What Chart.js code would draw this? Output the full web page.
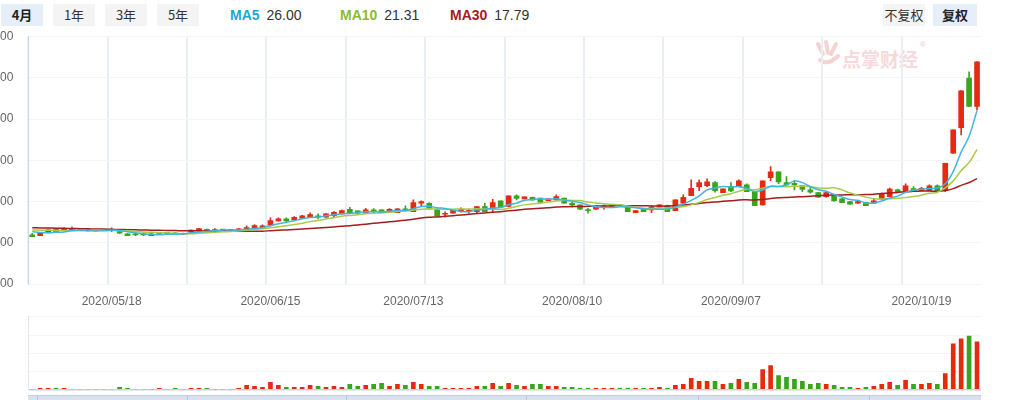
<!DOCTYPE html>
<html>
<head>
<meta charset="utf-8">
<script src="https://cdn.jsdelivr.net/npm/chart.js@4/dist/chart.umd.min.js"></script>
<style>
  body { margin: 0; width: 1015px; height: 400px; overflow: hidden; background: #fff; position: relative;
         font-family: "Liberation Sans", Arial, sans-serif; }
  .btn { position: absolute; top: 4px; height: 22px; line-height: 22px; text-align: center; font-size: 13px;
         color: #333; background: #f4f4f4; font-family: "Noto Sans CJK SC", sans-serif; }
  .btn.on { background: #e6eef9; font-weight: bold; color: #222; }
  .ma { position: absolute; top: 6px; font-size: 14px; line-height: 18px; color: #333; white-space: nowrap; }
  .ma b { margin-right: 3px; }
  canvas { position: absolute; }
  #mark { position: absolute; left: 842px; top: 45px; font: bold 19px "Noto Sans CJK SC", sans-serif; color: #f7d9d9; }
  #reg { position: absolute; left: 920px; top: 40px; font-size: 8px; color: #f2cccc; }
  #strip { position: absolute; left: 28px; top: 395px; width: 953px; height: 5px; background: #d9e0ee; border-top: 1px solid #c6cfe1; }
  #strip i { position: absolute; top: 0; width: 1px; height: 5px; background: #b9c4da; }
</style>
</head>
<body>
<div class="btn on" style="left:1px;width:42px">4月</div>
<div class="btn" style="left:53px;width:42px">1年</div>
<div class="btn" style="left:105px;width:42px">3年</div>
<div class="btn" style="left:157px;width:42px">5年</div>
<div class="ma" style="left:230px"><b style="color:#1da7d6">MA5</b> 26.00</div>
<div class="ma" style="left:340px"><b style="color:#8cbd27">MA10</b> 21.31</div>
<div class="ma" style="left:450px"><b style="color:#a51c1f">MA30</b> 17.79</div>
<div class="btn" style="left:883px;width:42px">不复权</div>
<div class="btn on" style="left:933px;width:44px">复权</div>

<svg style="position:absolute;left:814px;top:40px" width="28" height="28">
  <g stroke="#f6d3d3" stroke-width="4" stroke-linecap="round" fill="none">
    <path d="M4 4 L9 14"/><path d="M12 2 L14 13"/><path d="M22 4 L17 14"/><path d="M6 20 Q14 26 24 16"/>
  </g>
</svg>
<div id="mark">点掌财经</div>
<div id="reg">®</div>

<canvas id="kline" width="1055" height="310" style="left:-40px;top:0"></canvas>
<canvas id="vol" width="1055" height="92" style="left:-40px;top:300px"></canvas>

<div id="strip">
  <i style="left:9px"></i><i style="left:159px"></i><i style="left:318px"></i>
  <i style="left:498px"></i><i style="left:670px"></i><i style="left:841px"></i>
</div>

<script>
// trading days shown (2020/04/29 - 2020/10/28)
const dates = [
  '2020/04/29','2020/04/30',
  '2020/05/06','2020/05/07','2020/05/08','2020/05/11','2020/05/12','2020/05/13','2020/05/14','2020/05/15',
  '2020/05/18','2020/05/19','2020/05/20','2020/05/21','2020/05/22','2020/05/25','2020/05/26','2020/05/27',
  '2020/05/28','2020/05/29',
  '2020/06/01','2020/06/02','2020/06/03','2020/06/04','2020/06/05','2020/06/08','2020/06/09','2020/06/10',
  '2020/06/11','2020/06/12','2020/06/15','2020/06/16','2020/06/17','2020/06/18','2020/06/19','2020/06/22',
  '2020/06/23','2020/06/24','2020/06/29','2020/06/30',
  '2020/07/01','2020/07/02','2020/07/03','2020/07/06','2020/07/07','2020/07/08','2020/07/09','2020/07/10',
  '2020/07/13','2020/07/14','2020/07/15','2020/07/16','2020/07/17','2020/07/20','2020/07/21','2020/07/22',
  '2020/07/23','2020/07/24','2020/07/27','2020/07/28','2020/07/29','2020/07/30','2020/07/31',
  '2020/08/03','2020/08/04','2020/08/05','2020/08/06','2020/08/07','2020/08/10','2020/08/11','2020/08/12',
  '2020/08/13','2020/08/14','2020/08/17','2020/08/18','2020/08/19','2020/08/20','2020/08/21','2020/08/24',
  '2020/08/25','2020/08/26','2020/08/27','2020/08/28','2020/08/31',
  '2020/09/01','2020/09/02','2020/09/03','2020/09/04','2020/09/07','2020/09/08','2020/09/09','2020/09/10',
  '2020/09/11','2020/09/14','2020/09/15','2020/09/16','2020/09/17','2020/09/18','2020/09/21','2020/09/22',
  '2020/09/23','2020/09/24','2020/09/25','2020/09/28','2020/09/29','2020/09/30',
  '2020/10/09','2020/10/12','2020/10/13','2020/10/14','2020/10/15','2020/10/16','2020/10/19','2020/10/20',
  '2020/10/21','2020/10/22','2020/10/23','2020/10/26','2020/10/27','2020/10/28'
];
const shownDates = ['2020/05/18', '2020/06/15', '2020/07/13', '2020/08/10', '2020/09/07', '2020/10/19'];

const opens = [
  10.95, 10.87, 11.23, 11.64, 11.51, 11.68, 11.60, 11.60, 11.39, 11.57,
  11.64, 11.35, 11.07, 11.03, 11.03, 10.87, 10.99, 11.12, 11.19, 11.03,
  11.27, 11.39, 11.64, 11.47, 11.57, 11.52, 11.51, 11.55, 11.76, 11.72,
  12.12, 12.65, 12.89, 12.77, 12.97, 13.05, 13.25, 13.09, 13.29, 13.50,
  14.06, 13.86, 13.58, 13.98, 13.98, 13.86, 13.66, 14.06, 13.78, 14.79,
  14.79, 14.06, 13.46, 13.58, 13.90, 13.82, 13.78, 14.39, 14.06, 15.07,
  14.39, 15.68, 15.32, 15.52, 15.40, 15.11, 15.19, 15.40, 14.79, 14.59,
  13.98, 14.06, 14.31, 14.39, 14.52, 14.39, 13.66, 14.10, 13.98, 14.31,
  14.55, 13.90, 14.79, 15.72, 16.81, 16.93, 17.29, 16.08, 16.81, 16.81,
  17.01, 16.20, 14.59, 17.90, 18.59, 17.29, 17.21, 16.93, 16.40, 16.08,
  15.60, 15.72, 15.32, 14.99, 14.79, 14.91, 14.79, 15.30, 15.60, 16.40,
  16.20, 16.56, 16.32, 16.32, 16.89, 16.32, 20.85, 23.96, 29.95, 26.51
];
const highs = [
  11.15, 11.17, 11.60, 11.68, 11.80, 11.92, 11.62, 11.62, 11.66, 11.62,
  11.80, 11.37, 11.10, 11.23, 11.23, 11.10, 11.10, 11.14, 11.21, 11.17,
  11.57, 11.74, 11.66, 11.72, 11.60, 11.55, 11.76, 12.04, 12.20, 12.16,
  13.01, 13.01, 13.01, 13.17, 13.33, 13.62, 13.50, 13.55, 13.78, 13.95,
  14.30, 13.88, 14.18, 14.14, 14.00, 14.14, 14.14, 14.47, 15.19, 15.07,
  14.87, 14.20, 13.74, 14.00, 14.22, 14.06, 14.41, 14.79, 15.27, 15.09,
  15.70, 15.80, 15.58, 15.54, 15.42, 15.34, 15.80, 15.42, 14.99, 14.61,
  14.18, 14.41, 14.59, 14.57, 14.55, 14.41, 13.92, 14.12, 14.47, 14.61,
  14.57, 15.21, 15.80, 17.62, 17.62, 17.74, 17.42, 16.55, 17.29, 17.62,
  17.13, 16.22, 17.52, 19.24, 18.61, 18.02, 17.54, 16.95, 16.81, 16.10,
  16.10, 15.74, 15.34, 15.01, 15.01, 14.93, 15.27, 16.02, 16.62, 16.50,
  17.13, 16.81, 16.72, 17.01, 17.01, 19.65, 23.70, 28.43, 30.71, 31.95
];
const lows = [
  10.71, 10.85, 11.20, 11.28, 11.48, 11.47, 11.45, 11.41, 11.37, 11.50,
  11.35, 11.13, 10.85, 10.87, 10.87, 10.85, 10.97, 11.08, 11.01, 11.01,
  11.25, 11.37, 11.37, 11.35, 11.52, 11.48, 11.47, 11.53, 11.74, 11.70,
  12.04, 12.63, 12.57, 12.75, 12.95, 13.03, 12.89, 13.07, 13.09, 13.48,
  13.56, 13.56, 13.56, 13.66, 13.64, 13.74, 13.64, 13.90, 13.76, 14.39,
  14.08, 13.23, 13.09, 13.56, 13.70, 13.58, 13.58, 13.76, 13.70, 14.29,
  14.37, 15.19, 15.30, 15.17, 14.89, 15.09, 15.17, 14.77, 14.31, 14.04,
  13.58, 14.04, 14.06, 14.37, 14.42, 13.76, 13.64, 13.76, 13.66, 14.29,
  13.76, 13.88, 14.77, 15.70, 16.32, 16.81, 16.12, 16.06, 16.20, 16.79,
  16.18, 14.48, 14.57, 17.54, 17.17, 16.99, 16.40, 16.20, 16.00, 15.50,
  15.48, 15.05, 14.85, 14.65, 14.77, 14.48, 14.77, 15.19, 15.58, 16.12,
  16.18, 16.30, 16.30, 16.30, 16.30, 16.20, 20.83, 23.07, 26.49, 26.11
];
const closes = [
  10.75, 11.15, 11.56, 11.31, 11.76, 11.60, 11.47, 11.43, 11.64, 11.56,
  11.47, 11.15, 10.87, 10.95, 10.95, 11.07, 11.07, 11.10, 11.03, 11.15,
  11.55, 11.72, 11.39, 11.60, 11.55, 11.50, 11.68, 11.84, 12.08, 12.04,
  12.69, 12.89, 12.65, 13.09, 13.25, 13.42, 13.09, 13.50, 13.70, 13.90,
  13.58, 13.58, 13.98, 13.82, 13.66, 14.06, 14.10, 13.98, 14.87, 14.99,
  14.10, 13.25, 13.58, 13.98, 14.06, 13.94, 14.39, 13.78, 14.87, 14.31,
  15.68, 15.36, 15.56, 15.19, 14.91, 15.32, 15.60, 14.79, 14.59, 14.06,
  13.90, 14.39, 14.47, 14.55, 14.47, 13.78, 13.90, 13.78, 14.31, 14.59,
  13.78, 15.19, 15.52, 16.61, 17.29, 17.38, 16.32, 16.53, 16.28, 17.50,
  16.20, 14.50, 17.50, 18.59, 17.38, 17.01, 17.01, 16.45, 16.12, 15.52,
  16.08, 15.07, 14.87, 14.67, 14.99, 14.50, 15.09, 16.00, 16.50, 16.14,
  16.89, 16.32, 16.60, 16.89, 16.32, 19.63, 23.68, 28.41, 26.51, 31.93
];

const ma5 = [
  11.35, 11.25, 11.22, 11.27, 11.31, 11.48, 11.54, 11.51, 11.58, 11.54,
  11.51, 11.45, 11.34, 11.20, 11.08, 11.00, 10.98, 11.03, 11.04, 11.08,
  11.18, 11.31, 11.37, 11.48, 11.56, 11.55, 11.54, 11.63, 11.73, 11.83,
  12.07, 12.31, 12.47, 12.67, 12.91, 13.06, 13.10, 13.27, 13.39, 13.52,
  13.55, 13.65, 13.75, 13.77, 13.72, 13.82, 13.92, 13.92, 14.13, 14.40,
  14.41, 14.24, 14.16, 13.98, 13.79, 13.76, 13.99, 14.03, 14.21, 14.26,
  14.61, 14.80, 15.16, 15.22, 15.34, 15.27, 15.32, 15.16, 15.04, 14.87,
  14.59, 14.35, 14.28, 14.27, 14.36, 14.33, 14.23, 14.10, 14.05, 14.07,
  14.07, 14.33, 14.68, 15.14, 15.68, 16.40, 16.62, 16.83, 16.76, 16.80,
  16.57, 16.20, 16.40, 16.86, 16.83, 17.00, 17.50, 17.29, 16.79, 16.42,
  16.24, 15.85, 15.53, 15.24, 15.14, 14.82, 14.82, 15.05, 15.42, 15.65,
  16.12, 16.37, 16.49, 16.57, 16.60, 17.15, 18.62, 20.99, 22.91, 26.03
];
const ma10 = [
  11.55, 11.53, 11.51, 11.49, 11.47, 11.46, 11.45, 11.44, 11.43, 11.42,
  11.50, 11.50, 11.43, 11.39, 11.31, 11.26, 11.22, 11.18, 11.12, 11.08,
  11.09, 11.15, 11.20, 11.26, 11.32, 11.37, 11.43, 11.50, 11.61, 11.70,
  11.81, 11.93, 12.05, 12.20, 12.37, 12.56, 12.70, 12.87, 13.03, 13.22,
  13.31, 13.38, 13.51, 13.58, 13.62, 13.69, 13.79, 13.84, 13.95, 14.06,
  14.11, 14.08, 14.04, 14.06, 14.10, 14.09, 14.11, 14.09, 14.09, 14.03,
  14.18, 14.40, 14.59, 14.71, 14.80, 14.94, 15.06, 15.16, 15.13, 15.11,
  14.93, 14.83, 14.72, 14.66, 14.61, 14.46, 14.29, 14.19, 14.16, 14.21,
  14.20, 14.28, 14.39, 14.59, 14.88, 15.24, 15.48, 15.75, 15.95, 16.24,
  16.48, 16.41, 16.61, 16.81, 16.82, 16.78, 16.85, 16.84, 16.83, 16.63,
  16.62, 16.67, 16.41, 16.02, 15.78, 15.53, 15.34, 15.29, 15.33, 15.39,
  15.47, 15.60, 15.77, 15.99, 16.13, 16.64, 17.50, 18.74, 19.74, 21.32
];
const ma30 = [
  11.82, 11.80, 11.79, 11.77, 11.75, 11.73, 11.71, 11.69, 11.67, 11.65,
  11.63, 11.61, 11.59, 11.57, 11.55, 11.53, 11.51, 11.49, 11.47, 11.46,
  11.45, 11.44, 11.43, 11.42, 11.41, 11.41, 11.40, 11.40, 11.40, 11.40,
  11.46, 11.52, 11.56, 11.62, 11.67, 11.73, 11.78, 11.85, 11.92, 12.00,
  12.07, 12.15, 12.25, 12.35, 12.44, 12.54, 12.64, 12.74, 12.86, 12.99,
  13.08, 13.13, 13.20, 13.28, 13.36, 13.45, 13.54, 13.60, 13.69, 13.77,
  13.87, 13.95, 14.05, 14.12, 14.17, 14.24, 14.32, 14.36, 14.39, 14.40,
  14.41, 14.44, 14.45, 14.48, 14.50, 14.49, 14.49, 14.48, 14.46, 14.45,
  14.44, 14.50, 14.57, 14.66, 14.76, 14.88, 14.94, 15.03, 15.08, 15.19,
  15.20, 15.18, 15.24, 15.35, 15.44, 15.49, 15.54, 15.59, 15.65, 15.69,
  15.77, 15.79, 15.80, 15.81, 15.82, 15.85, 15.89, 15.96, 16.03, 16.09,
  16.19, 16.23, 16.26, 16.27, 16.24, 16.32, 16.56, 16.96, 17.30, 17.78
];

// volume (relative units)
const volumes = [
  0, 1, 1, 1, 1, 0, 0, 0, 0, 0,
  0, 2, 1, 0, 0, 0, 1, 0, 1, 0,
  1, 1, 1, 0, 0, 0, 1, 4, 3, 2,
  7, 4, 2, 2, 2, 4, 3, 2, 3, 2,
  5, 3, 4, 5, 6, 3, 5, 4, 7, 5,
  3, 3, 1, 1, 1, 1, 3, 3, 6, 3,
  6, 4, 3, 5, 5, 3, 3, 2, 2, 1,
  1, 1, 1, 1, 1, 1, 1, 1, 1, 2,
  1, 4, 5, 11, 8, 8, 8, 5, 6, 10,
  7, 6, 20, 24, 14, 12, 10, 8, 5, 6,
  5, 4, 2, 2, 1, 2, 3, 5, 7, 4,
  9, 5, 5, 6, 5, 16, 46, 51, 54, 48
];

const UP = '#e42a10';
const DOWN = '#38a61d';
const colors = closes.map((c, i) => (c >= opens[i] ? UP : DOWN));

Chart.defaults.font.family = '"Liberation Sans", Arial, sans-serif';
Chart.defaults.animation = false;

const gridX = (ctx) => (ctx.index % 10 === 0 ? '#e9eef4' : 'rgba(0,0,0,0)');

new Chart(document.getElementById('kline'), {
  type: 'bar',
  data: {
    labels: dates,
    datasets: [
      { type: 'line', label: 'MA5', data: ma5, borderColor: '#3fb6e1', borderWidth: 1.5, pointRadius: 0, tension: 0.3, order: 0 },
      { type: 'line', label: 'MA10', data: ma10, borderColor: '#a7cb4a', borderWidth: 1.5, pointRadius: 0, tension: 0.3, order: 0 },
      { type: 'line', label: 'MA30', data: ma30, borderColor: '#a21d1d', borderWidth: 1.5, pointRadius: 0, tension: 0.3, order: 0 },
      { label: 'body', data: opens.map((o, i) => [o, closes[i]]), backgroundColor: colors,
        barThickness: 5, minBarLength: 1, grouped: false, order: 1 },
      { label: 'wick', data: lows.map((l, i) => [l, highs[i]]), backgroundColor: colors,
        barThickness: 1, grouped: false, order: 2 }
    ]
  },
  options: {
    responsive: false,
    layout: { padding: { top: 36.5, right: 34, left: 0, bottom: 0 } },
    plugins: { legend: { display: false }, tooltip: { enabled: false } },
    scales: {
      x: {
        offset: true,
        grid: { offset: true, drawTicks: false, color: gridX, lineWidth: 2 },
        border: { display: false },
        ticks: {
          autoSkip: false, maxRotation: 0, minRotation: 0, padding: 10,
          color: '#666', font: { size: 12 },
          callback: (v, i) => (shownDates.includes(dates[i]) ? dates[i] : '')
        },
        afterFit: (s) => { s.height = 26; }
      },
      y: {
        min: 5, max: 35,
        ticks: { stepSize: 5, padding: 15, color: '#666', font: { size: 12 }, callback: (v) => v.toFixed(2) },
        grid: { drawTicks: false, color: '#f3f4f6' },
        border: { color: '#c7d7ec', width: 1 },
        afterFit: (s) => { s.width = 68.3; }
      }
    }
  }
});

new Chart(document.getElementById('vol'), {
  type: 'bar',
  data: {
    labels: dates,
    datasets: [
      { label: 'volume', data: volumes, backgroundColor: colors, barThickness: 4 }
    ]
  },
  options: {
    responsive: false,
    layout: { padding: { top: 16.7, right: 34, left: 0, bottom: 2.7 } },
    plugins: { legend: { display: false }, tooltip: { enabled: false } },
    scales: {
      x: {
        offset: true,
        grid: { offset: true, drawTicks: false, color: (ctx) => (ctx.index === 120 ? '#e3e8f0' : 'rgba(0,0,0,0)') },
        border: { display: false },
        ticks: { display: false },
        afterFit: (s) => { s.height = 0; }
      },
      y: {
        min: 0, max: 73.5,
        ticks: { display: false, stepSize: 18 },
        grid: { drawTicks: false, color: (ctx) => (ctx.tick.value === 0 ? '#c9d3e4' : '#f3f4f6'),
                lineWidth: (ctx) => (ctx.tick.value === 0 ? 1.5 : 1) },
        border: { color: '#dfe6f0' },
        afterFit: (s) => { s.width = 68.3; }
      }
    }
  }
});
</script>
</body>
</html>
